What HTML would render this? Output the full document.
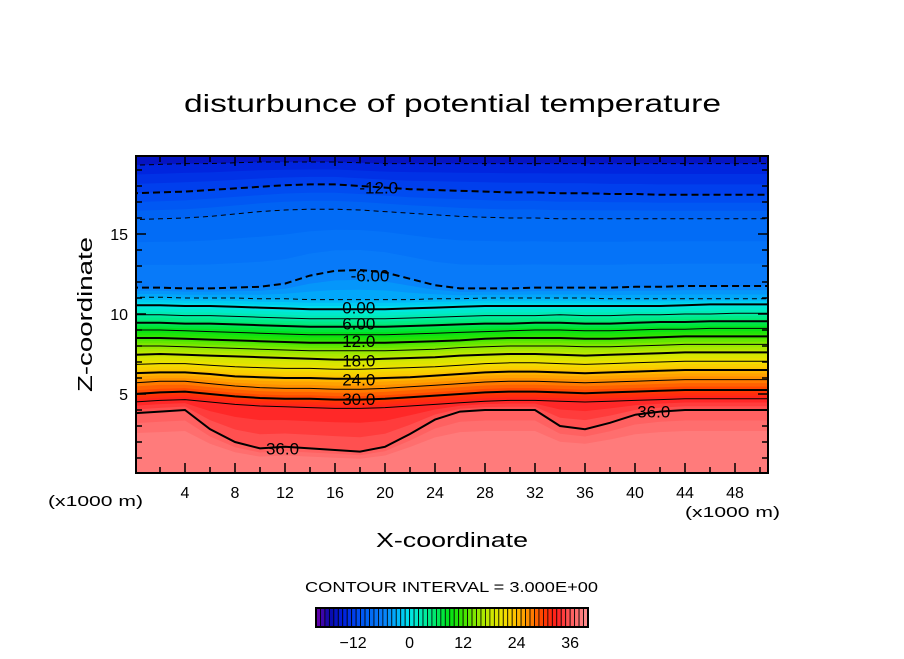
<!DOCTYPE html>
<html><head><meta charset="utf-8"><style>
body{margin:0;background:#fff;}
svg text{font-family:"Liberation Sans","DejaVu Sans",sans-serif;fill:#000;}
</style></head><body>
<svg id="chart" width="904" height="654" xmlns="http://www.w3.org/2000/svg">
<text x="184" y="112" font-size="25" textLength="537" lengthAdjust="spacingAndGlyphs">disturbunce of potential temperature</text>
<g id="plot"></g>
<g id="axes"></g>
<text transform="translate(92,392) rotate(-90)" font-size="20" textLength="155" lengthAdjust="spacingAndGlyphs">Z-coordinate</text>
<text x="376" y="547" font-size="20" textLength="152" lengthAdjust="spacingAndGlyphs">X-coordinate</text>
<text x="48" y="506" font-size="15" textLength="95" lengthAdjust="spacingAndGlyphs">(x1000 m)</text>
<text x="685" y="517" font-size="15" textLength="95" lengthAdjust="spacingAndGlyphs">(x1000 m)</text>
<text x="305" y="592" font-size="15" textLength="293" lengthAdjust="spacingAndGlyphs">CONTOUR INTERVAL = 3.000E+00</text>
<g id="cbar"></g>
</svg>
<script>
const xs = [0,2,4,6,8,10,12,14,16,18,20,22,24,26,28,30,32,34,36,38,40,42,44,46,48,50];
const levels = [-15,-12,-9,-6,-3,0,3,6,9,12,15,18,21,24,27,30,33,36];
const lvM15 = [19.3,19.35,19.4,19.4,19.45,19.5,19.5,19.5,19.5,19.45,19.4,19.4,19.4,19.4,19.4,19.4,19.4,19.4,19.4,19.4,19.4,19.4,19.4,19.4,19.4,19.4];
const lvM12 = [17.55,17.6,17.65,17.75,17.85,17.95,18.05,18.1,18.1,18.0,17.9,17.8,17.75,17.7,17.65,17.6,17.6,17.55,17.55,17.5,17.5,17.45,17.45,17.45,17.45,17.45];
const lvM9 = [15.9,15.95,16.0,16.1,16.25,16.4,16.5,16.55,16.55,16.5,16.4,16.3,16.2,16.1,16.05,16.0,16.0,15.95,15.95,15.95,15.95,15.95,15.95,15.95,15.95,15.95];
const lvM6 = [11.65,11.65,11.6,11.6,11.65,11.7,11.9,12.4,12.7,12.75,12.6,12.2,11.8,11.6,11.6,11.6,11.65,11.65,11.65,11.65,11.7,11.7,11.75,11.75,11.75,11.75];
const lvM3 = [11.05,11.05,11.0,11.0,11.0,10.95,10.95,10.9,10.9,10.9,10.9,10.9,10.95,10.95,11.0,11.0,11.0,11.0,11.0,10.95,10.95,10.95,10.95,10.95,10.95,10.95];
const lv0 = [10.55,10.55,10.5,10.5,10.45,10.4,10.35,10.3,10.3,10.3,10.3,10.35,10.4,10.45,10.5,10.5,10.5,10.5,10.5,10.5,10.5,10.5,10.55,10.6,10.6,10.6];
const lv3 = [9.95,9.95,9.9,9.9,9.85,9.8,9.75,9.7,9.7,9.7,9.7,9.75,9.8,9.85,9.9,9.9,9.9,9.95,9.9,9.9,9.95,9.95,10.0,10.0,10.05,10.05];
const lv6 = [9.45,9.45,9.4,9.4,9.35,9.3,9.25,9.2,9.2,9.2,9.2,9.25,9.3,9.35,9.4,9.4,9.45,9.45,9.4,9.4,9.45,9.5,9.5,9.55,9.55,9.55];
const lv9 = [9.0,9.0,8.95,8.9,8.85,8.8,8.75,8.7,8.7,8.7,8.7,8.75,8.8,8.85,8.9,8.95,9.0,9.0,8.95,8.95,9.0,9.05,9.05,9.1,9.1,9.1];
const lv12 = [8.5,8.5,8.45,8.4,8.35,8.3,8.25,8.2,8.2,8.2,8.2,8.25,8.3,8.35,8.45,8.5,8.5,8.5,8.45,8.45,8.5,8.55,8.6,8.6,8.6,8.6];
const lv15 = [8.0,8.0,7.95,7.9,7.85,7.8,7.75,7.7,7.7,7.7,7.7,7.75,7.8,7.9,7.95,8.0,8.0,8.0,7.95,7.95,8.0,8.05,8.1,8.1,8.1,8.1];
const lv18 = [7.45,7.5,7.45,7.4,7.35,7.3,7.25,7.2,7.15,7.15,7.2,7.25,7.3,7.4,7.45,7.5,7.5,7.45,7.4,7.45,7.5,7.55,7.6,7.6,7.6,7.6];
const lv21 = [6.85,6.9,6.9,6.8,6.7,6.65,6.6,6.6,6.55,6.55,6.6,6.65,6.7,6.8,6.9,6.95,6.95,6.9,6.85,6.9,6.95,7.0,7.05,7.05,7.05,7.05];
const lv24 = [6.3,6.35,6.35,6.25,6.1,6.05,6.0,6.0,5.95,5.95,6.0,6.05,6.15,6.25,6.35,6.4,6.4,6.35,6.3,6.35,6.4,6.45,6.5,6.5,6.5,6.5];
const lv27 = [5.7,5.8,5.8,5.65,5.5,5.4,5.35,5.35,5.3,5.3,5.35,5.45,5.55,5.65,5.75,5.8,5.8,5.75,5.7,5.75,5.8,5.85,5.9,5.9,5.9,5.9];
const lv30 = [5.0,5.1,5.15,5.0,4.85,4.75,4.7,4.7,4.65,4.65,4.7,4.8,4.9,5.0,5.1,5.15,5.15,5.1,5.05,5.1,5.15,5.2,5.25,5.25,5.25,5.25];
const lv33 = [4.5,4.6,4.65,4.5,4.35,4.25,4.2,4.15,4.1,4.1,4.15,4.25,4.35,4.45,4.55,4.6,4.6,4.55,4.5,4.55,4.6,4.65,4.7,4.7,4.7,4.7];
const lv36 = [3.8,3.9,4.0,2.8,2.0,1.6,1.7,1.6,1.5,1.4,1.7,2.5,3.4,3.9,4.0,4.0,4.0,3.0,2.8,3.2,3.7,3.9,4.0,4.0,4.0,4.0];
const lines = [lvM15,lvM12,lvM9,lvM6,lvM3,lv0,lv3,lv6,lv9,lv12,lv15,lv18,lv21,lv24,lv27,lv30,lv33,lv36];
const xTicks = [4,8,12,16,20,24,28,32,36,40,44,48];
const yTicks = [5,10,15];
const cbTicks = [-12,0,12,24,36];
const labelTexts = ["-12.0","-6.00","0.00","6.00","12.0","18.0","24.0","30.0","36.0","36.0"];
const labelX = [19.5,18.8,17.9,17.9,17.9,17.9,17.9,17.9,11.8,41.5];
const labelZ = [17.9,12.4,10.4,9.4,8.3,7.1,5.9,4.7,1.6,3.9];

const X0=135, XS=12.5, Y0=474, YS=16, PL=136, PR=768, PT=156, PB=473;
const sx = x => X0 + x*XS;
const sy = z => Y0 - z*YS;
const NS='http://www.w3.org/2000/svg';
function mk(tag, attrs, parent){const e=document.createElementNS(NS,tag);for(const k in attrs)e.setAttribute(k,attrs[k]);parent.appendChild(e);return e;}
const stops=[[-21,110,0,170],[-18,10,10,170],[-15,0,30,220],[-12,0,70,240],[-9,0,105,245],[-6,10,125,250],[-3,0,175,250],[0,0,230,235],[3,0,235,170],[6,0,232,100],[9,0,225,20],[12,60,230,0],[15,140,232,0],[18,200,232,0],[21,240,225,0],[24,255,190,0],[27,255,135,0],[30,255,60,0],[33,255,30,30],[36,255,90,90],[39,255,130,130],[41,255,160,160]];
function cmap(v){v=Math.max(-21,Math.min(41,v));for(let i=0;i<stops.length-1;i++){const a=stops[i],b=stops[i+1];if(v>=a[0]&&v<=b[0]){const t=(v-a[0])/(b[0]-a[0]);return 'rgb('+[1,2,3].map(j=>Math.round(a[j]+(b[j]-a[j])*t)).join(',')+')';}}return 'rgb(255,160,160)';}

const plot=document.getElementById('plot');
const defs=mk('defs',{},plot);
const cp=mk('clipPath',{id:'clip'},defs);
mk('rect',{x:PL,y:PT,width:PR-PL,height:PB-PT},cp);
const fg=mk('g',{'clip-path':'url(#clip)'},plot);
const bg=mk('rect',{x:PL,y:PT,width:PR-PL,height:PB-PT,fill:cmap(-16.5)},fg);


function linePts(arr){const pts=arr.map((z,i)=>[sx(xs[i]),sy(z)]);pts.push([PR+5,sy(arr[arr.length-1])]);pts.unshift([PL-5,sy(arr[0])]);return pts;}
function fillBelow(pts,col,name){
  const d='M'+pts.map(p=>p[0].toFixed(1)+','+p[1].toFixed(1)).join(' L')+' L'+(PR+5)+','+(PB+5)+' L'+(PL-5)+','+(PB+5)+'Z';
  const p=mk('path',{d:d,fill:col},fg);
  
  
}
// top sub-bands above -15 line
levels.forEach((L,i)=>{
  const cur=linePts(lines[i]);
  const nxt=i<levels.length-1?linePts(lines[i+1]):null;
  for(let k=0;k<3;k++){
    let pts=cur;
    if(nxt&&k>0){const f=k/3;pts=cur.map((p,j)=>[p[0],p[1]+(nxt[j][1]-p[1])*f]);}
    else if(!nxt&&k>0){const f=k/3;pts=cur.map(p=>[p[0],p[1]+(PB-p[1])*f*0.5]);}
    fillBelow(pts,cmap(L+0.5+k),'field-band-'+L);
  }
});
levels.forEach((L,i)=>{
  const pts=linePts(lines[i]);
  const d='M'+pts.map(p=>p[0].toFixed(1)+','+p[1].toFixed(1)).join(' L');
  const thick=(L%6===0);
  const a={d:d,fill:'none',stroke:'#000','stroke-width':thick?2:1};
  if(L<0)a['stroke-dasharray']=thick?'7,4':'5,4';
  const p=mk('path',a,fg);
  
  
});
labelTexts.forEach((t,i)=>{
  const e=mk('text',{x:sx(labelX[i]),y:sy(labelZ[i])+6,'font-size':17,'text-anchor':'middle'},fg);
  e.textContent=t;
  
  
});

const ax=document.getElementById('axes');
const fr=mk('rect',{x:PL,y:PT,width:PR-PL,height:PB-PT,fill:'none',stroke:'#000','stroke-width':2},ax);


for(let x=2;x<=50;x+=2){
  const len=(x%4===0)?10:6;
  mk('line',{x1:sx(x),x2:sx(x),y1:PB,y2:PB-len,stroke:'#000','stroke-width':1.5},ax);
  mk('line',{x1:sx(x),x2:sx(x),y1:PT,y2:PT+len,stroke:'#000','stroke-width':1.5},ax);
}
for(let z=1;z<=19;z++){
  const len=(z%5===0)?10:6;
  mk('line',{x1:PL,x2:PL+len,y1:sy(z),y2:sy(z),stroke:'#000','stroke-width':1.5},ax);
  mk('line',{x1:PR,x2:PR-len,y1:sy(z),y2:sy(z),stroke:'#000','stroke-width':1.5},ax);
}
xTicks.forEach(v=>{
  const t=mk('text',{x:sx(v),y:498,'font-size':16,'text-anchor':'middle'},ax);
  t.textContent=v;
  
  
});
yTicks.forEach(v=>{
  const t=mk('text',{x:128,y:sy(v)+6,'font-size':16,'text-anchor':'end'},ax);
  t.textContent=v;
  
  
});

const cb=document.getElementById('cbar');
const CB0=316, CB1=588, CBT=608, CBB=627, VMIN=-21, VMAX=40;
const cx=v=>CB0+(v-VMIN)/(VMAX-VMIN)*(CB1-CB0);
for(let v=VMIN;v<VMAX;v++){
  const r=mk('rect',{x:cx(v),y:CBT,width:cx(v+1)-cx(v),height:CBB-CBT,fill:cmap(v+0.5),stroke:'#000','stroke-width':0.8},cb);
  
  
}
mk('rect',{x:CB0,y:CBT,width:CB1-CB0,height:CBB-CBT,fill:'none',stroke:'#000','stroke-width':2},cb);
cbTicks.forEach(v=>{
  const t=mk('text',{x:cx(v)+(v<0?-3:0),y:648,'font-size':16,'text-anchor':'middle'},cb);
  t.textContent=v<0?'\u2212'+Math.abs(v):v;
  
  
});
</script>
</body></html>
